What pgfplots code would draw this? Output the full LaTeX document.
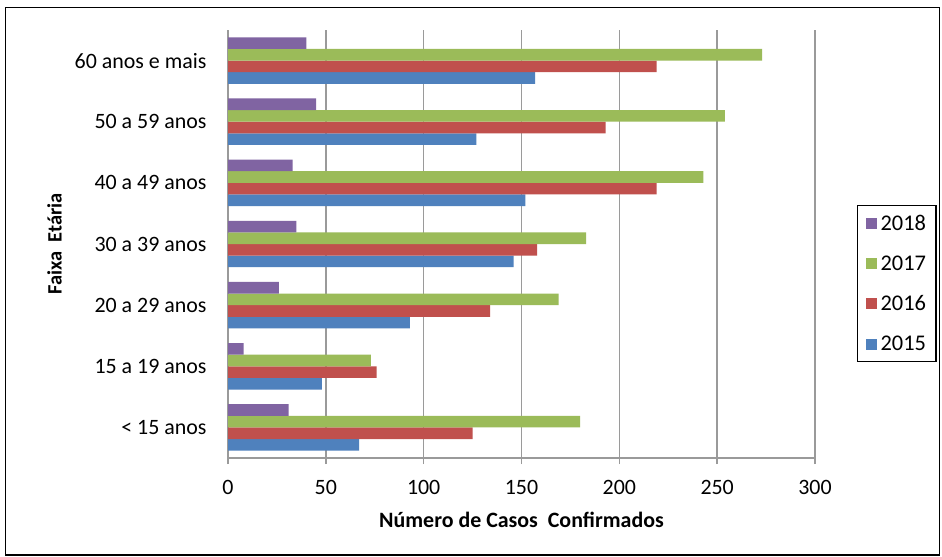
\documentclass[border=0pt]{standalone}
\usepackage{fontspec}
\setmainfont{Carlito}
\usepackage{pgfplots}
\pgfplotsset{compat=1.18}
\definecolor{c15}{HTML}{4F81BD}
\definecolor{c16}{HTML}{C0504D}
\definecolor{c17}{HTML}{9BBB59}
\definecolor{c18}{HTML}{8064A2}
\definecolor{gridc}{HTML}{9A9A9A}
\begin{document}
\begin{tikzpicture}
\useasboundingbox (0,0) rectangle (942bp,-557bp);
\fill[white] (0,0) rectangle (942bp,-557bp);
\draw[black, line width=1.3bp] (5.5bp,-7.5bp) rectangle (939.5bp,-555bp);
\begin{axis}[
  at={(228bp,-458bp)}, anchor=south west,
  scale only axis, width=587bp, height=428bp,
  xbar, bar width=0.19,
  xmin=0, xmax=300, ymin=-0.5, ymax=6.5,
  xtick={0,50,...,300},
  ytick={0,...,6},
  yticklabels={{< 15 anos},{15 a 19 anos},{20 a 29 anos},{30 a 39 anos},{40 a 49 anos},{50 a 59 anos},{60 anos e mais}},
  minor ytick={-0.5,0.5,...,6.5},
  axis x line*=bottom, axis y line*=left,
  axis line style={draw=gridc, line width=1.6bp, -},
  tick align=outside,
  major tick length=6bp, minor tick length=6bp,
  ytick style={draw=none},
  minor tick style={draw=gridc, line width=1.6bp},
  xtick style={draw=gridc, line width=1.6bp},
  xmajorgrids, major grid style={draw=gridc, line width=1.6bp},
  /pgf/number format/assume math mode=true,
  tick label style={font=\fontsize{22}{26}\selectfont, text=black},
  xticklabel style={yshift=-13bp},
  yticklabel style={xshift=-12bp},
  xlabel={\textbf{Número de Casos\ \ Confirmados}},
  ylabel={\textbf{Faixa\ \ Etária}},
  xlabel style={font=\fontsize{22}{26}\selectfont, yshift=-10bp},
  ylabel style={font=\fontsize{20.5}{24}\selectfont, yshift=6bp},
  reverse legend,
  legend style={at={(1.0716,0.4077)}, anchor=west, draw=black, line width=1.2bp,
    nodes={font=\fontsize{22.5}{27}\selectfont, inner sep=2bp},
    row sep=20bp, inner xsep=8bp, inner ysep=7bp,
    cells={anchor=west},
    /tikz/every odd column/.append style={column sep=2bp}},
  legend image code/.code={\fill[#1] (0bp,-5.5bp) rectangle (11bp,5.5bp);},
]
\addplot[fill=c15, draw=none, bar shift=-0.285] coordinates {(67,0) (48,1) (93,2) (146,3) (152,4) (127,5) (157,6)};
\addplot[fill=c16, draw=none, bar shift=-0.095] coordinates {(125,0) (76,1) (134,2) (158,3) (219,4) (193,5) (219,6)};
\addplot[fill=c17, draw=none, bar shift=0.095] coordinates {(180,0) (73,1) (169,2) (183,3) (243,4) (254,5) (273,6)};
\addplot[fill=c18, draw=none, bar shift=0.285] coordinates {(31,0) (8,1) (26,2) (35,3) (33,4) (45,5) (40,6)};
\legend{2015,2016,2017,2018}
\end{axis}
\end{tikzpicture}
\end{document}
